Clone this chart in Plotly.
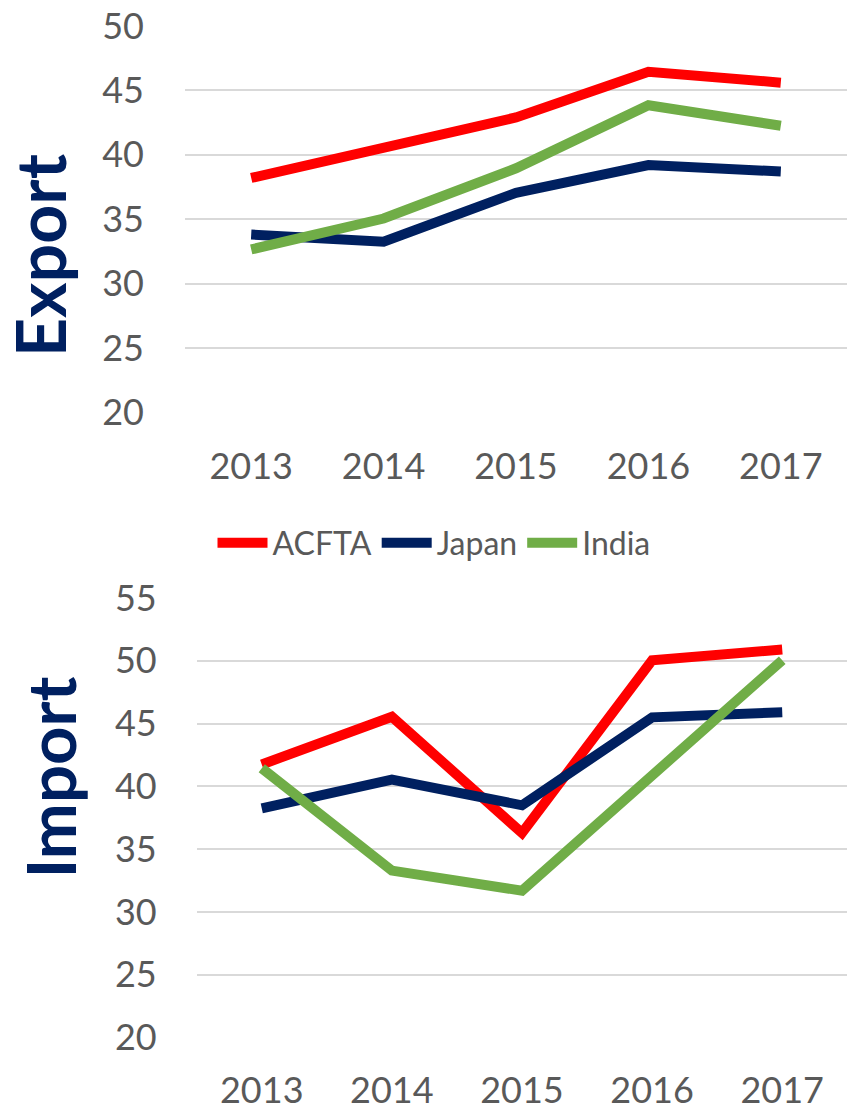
import plotly.graph_objects as go

years = ["2013", "2014", "2015", "2016", "2017"]
series_names = ["ACFTA", "Japan", "India"]
export_acfta = [38.2, 40.5, 42.9, 46.45, 45.6]
export_japan = [33.8, 33.25, 37.05, 39.2, 38.7]
export_india = [32.65, 35.05, 38.95, 43.85, 42.25]
import_acfta = [41.75, 45.55, 36.3, 50.05, 50.9]
import_japan = [38.25, 40.55, 38.5, 45.5, 45.9]
import_india = [41.45, 33.3, 31.7, 40.85, 50.05]
export_ticks = [20, 25, 30, 35, 40, 45, 50]
import_ticks = [20, 25, 30, 35, 40, 45, 50, 55]

colors = ["#FF0000", "#002060", "#70AD47"]
OFF = 8  # page body margin
W, H = 856 - OFF, 1118 - OFF
FONT = "Lato"
GRAY = "#595959"

fig = go.Figure()
for name, vals, c in zip(series_names, [export_acfta, export_japan, export_india], colors):
    fig.add_trace(go.Scatter(x=years, y=vals, mode="lines", name=name,
                             line=dict(color=c, width=10), xaxis="x", yaxis="y",
                             legendgroup=name, showlegend=True))
for name, vals, c in zip(series_names, [import_acfta, import_japan, import_india], colors):
    fig.add_trace(go.Scatter(x=years, y=vals, mode="lines", name=name,
                             line=dict(color=c, width=10), xaxis="x2", yaxis="y2",
                             legendgroup=name, showlegend=False))

def px_x(v):
    return (v - OFF) / W

def px_y(v):
    return 1 - (v - OFF) / H

axis_common = dict(showline=False, zeroline=False, ticks="", automargin=False,
                   ticklabeloverflow="allow",
                   tickfont=dict(family=FONT, size=36, color=GRAY))

fig.update_layout(
    width=W, height=H,
    margin=dict(l=0, r=0, t=0, b=0, autoexpand=False),
    paper_bgcolor="white", plot_bgcolor="white",
    font=dict(family=FONT, color=GRAY),
    xaxis=dict(domain=[px_x(185), px_x(847)], anchor="y", type="category",
               range=[-0.5, 4.5], showgrid=False, ticklabelstandoff=30, **axis_common),
    yaxis=dict(domain=[px_y(412.3), px_y(26)], anchor="x", range=[20, 50],
               tickvals=export_ticks, showgrid=True, gridcolor="#D9D9D9", gridwidth=1.5,
               ticklabelstandoff=40, **axis_common),
    xaxis2=dict(domain=[px_x(196.7), px_x(847.3)], anchor="y2", type="category",
                range=[-0.5, 4.5], showgrid=False, ticklabelstandoff=28, **axis_common),
    yaxis2=dict(domain=[px_y(1037.7), px_y(598)], anchor="x2", range=[20, 55],
                tickvals=import_ticks, showgrid=True, gridcolor="#D9D9D9", gridwidth=1.5,
                ticklabelstandoff=39, **axis_common),
    legend=dict(orientation="h", x=px_x(434), xanchor="center", y=px_y(543), yanchor="middle",
                font=dict(family=FONT, size=32, color=GRAY), itemwidth=50,
                bgcolor="rgba(0,0,0,0)", tracegroupgap=0),
    annotations=[
        dict(text="<b>Export</b>", textangle=-90, xref="paper", yref="paper",
             x=px_x(40), y=px_y(256), xanchor="center", yanchor="middle", showarrow=False,
             borderpad=0, font=dict(family=FONT, size=68, color="#002060")),
        dict(text="<b>Import</b>", textangle=-90, xref="paper", yref="paper",
             x=px_x(49), y=px_y(777.5), xanchor="center", yanchor="middle", showarrow=False,
             borderpad=0, font=dict(family=FONT, size=67, color="#002060")),
    ],
)

fig.write_html("out.html")
